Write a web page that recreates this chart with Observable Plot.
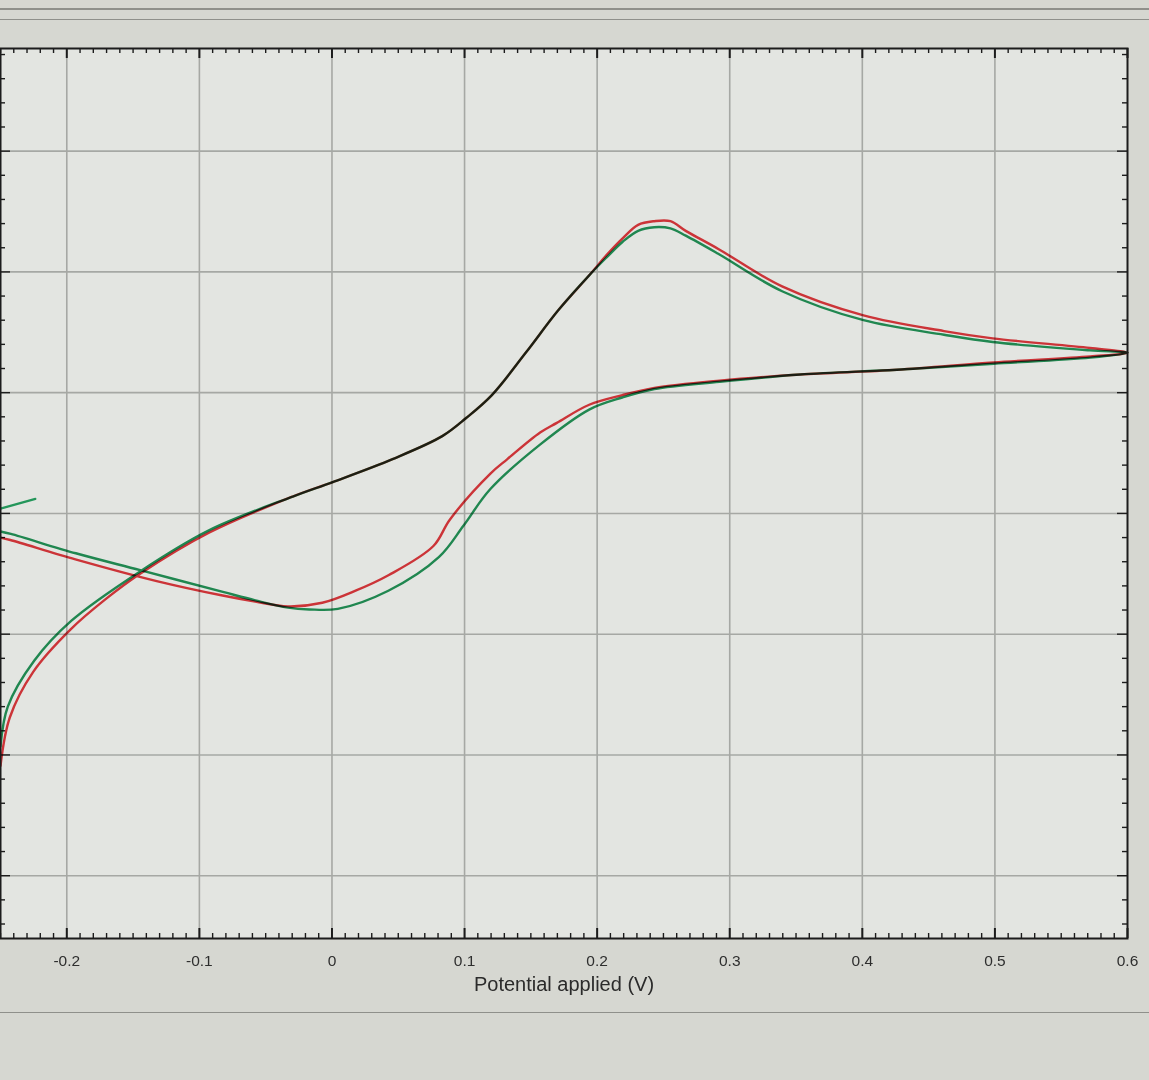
<!DOCTYPE html>
<html><head><meta charset="utf-8">
<script src="https://cdn.jsdelivr.net/npm/d3@7"></script>
<script src="https://cdn.jsdelivr.net/npm/@observablehq/plot@0.6"></script>
<style>
body{margin:0;background:#d6d7d1;font-family:"Liberation Sans",Arial,sans-serif;}
#wrap{position:relative;width:1149px;height:1080px;overflow:hidden;}
.uiline{position:absolute;left:0;width:1149px;height:2px;background:#8f908b;}
#chart{position:absolute;left:0;top:0;}
</style></head><body>
<div id="wrap">
  <div class="uiline" style="top:8px"></div>
  <div class="uiline" style="top:19px;height:1px"></div>
  <div id="chart"></div>
  <div class="uiline" style="top:1012px;height:1px"></div>
</div>
<script>
// ---- data (potential in V, current in grid units) ----
const redPotential = [-0.25,-0.243,-0.2252,-0.1971,-0.1707,-0.1447,-0.0928,-0.0296,0.0006,0.0457,0.0832,0.1012,0.1206,0.1461,0.1705,0.1947,0.2071,0.2194,0.2309,0.2431,0.2553,0.2668,0.2914,0.3395,0.4009,0.4616,0.4983,0.5717,0.6,
  0.572,0.4991,0.4261,0.3531,0.2923,0.2432,0.219,0.194,0.1696,0.157,0.1323,0.1195,0.089,0.0765,0.0429,0.0178,-0.0073,-0.0332,-0.0579,-0.0825,-0.1322,-0.1935,-0.2426,-0.25];
const redCurrent = [0.91,1.31,1.69,2.04,2.29,2.50,2.84,3.14,3.26,3.45,3.64,3.79,3.98,4.33,4.68,4.98,5.14,5.28,5.39,5.42,5.42,5.34,5.19,4.88,4.64,4.51,4.45,4.37,4.33,
  4.30,4.25,4.19,4.15,4.10,4.04,3.98,3.90,3.75,3.67,3.45,3.33,2.95,2.73,2.49,2.36,2.26,2.23,2.27,2.32,2.44,2.62,2.78,2.80];
const greenPotential = [-0.25,-0.2445,-0.2246,-0.1967,-0.1447,-0.0928,-0.0296,0.0006,0.0457,0.0832,0.1012,0.1206,0.1461,0.1705,0.1947,0.2071,0.2193,0.2309,0.2431,0.2553,0.2668,0.2913,0.3395,0.4009,0.4616,0.4983,0.5717,0.6,
  0.572,0.4991,0.4261,0.3531,0.2923,0.2432,0.219,0.194,0.1569,0.1193,0.0993,0.0808,0.0425,0.0044,-0.017,-0.0332,-0.0578,-0.0823,-0.1446,-0.1932,-0.2422,-0.25];
const greenCurrent = [1.07,1.40,1.78,2.11,2.52,2.86,3.14,3.26,3.45,3.64,3.79,3.98,4.33,4.68,4.98,5.12,5.25,5.34,5.37,5.36,5.30,5.15,4.84,4.60,4.48,4.42,4.35,4.33,
  4.29,4.24,4.19,4.15,4.09,4.03,3.96,3.86,3.57,3.20,2.90,2.64,2.36,2.21,2.205,2.22,2.28,2.35,2.53,2.67,2.83,2.85];
const greenStartPotential = [-0.25,-0.2237];
const greenStartCurrent = [3.04,3.12];

const xMajor = [-0.2,-0.1,0,0.1,0.2,0.3,0.4,0.5,0.6];
const xTickLabels = ["-0.2","-0.1","0","0.1","0.2","0.3","0.4","0.5","0.6"];
const xGrid = [-0.2,-0.1,0,0.1,0.2,0.3,0.4,0.5];
const yGrid = [0,1,2,3,4,5,6];
const xLabel = "Potential applied (V)";

// ---- layout ----
const W = 1149, H = 1010, mT = 48, mB = 72, mL = 0, mR = 22;
const xDom = [-0.25, 0.6], yDom = [-0.52, 6.85];
const pxPerX = (W - mL - mR) / (xDom[1] - xDom[0]);
const pxPerY = (H - mT - mB) / (yDom[1] - yDom[0]);

const rows = (v, i) => v.map((d, k) => ({V: d, I: i[k]}));
const red = rows(redPotential, redCurrent);
const green = rows(greenPotential, greenCurrent);
const greenStart = rows(greenStartPotential, greenStartCurrent);

const xMinor = d3.range(-25, 61).map(k => k / 100);
const yMinor = d3.range(-2, 35).map(k => k / 5);
const lenMajY = 10 / pxPerY, lenMinY = 5 / pxPerY;
const lenMajX = 10 / pxPerX, lenMinX = 5 / pxPerX;
const isMajorX = d => Math.abs(Math.round(d * 10) - d * 10) < 1e-6;
const isMajorY = d => Math.abs(Math.round(d) - d) < 1e-6;
const ink = "#1c1c1c";

const chart = Plot.plot({
  width: W, height: H,
  marginTop: mT, marginBottom: mB, marginLeft: mL, marginRight: mR,
  style: {background: "transparent", fontFamily: "'Liberation Sans', Arial, sans-serif"},
  x: {domain: xDom},
  y: {domain: yDom, axis: null},
  marks: [
    Plot.frame({fill: "#e3e5e1", stroke: "none"}),
    Plot.ruleX(xGrid, {stroke: "#a6a8a4", strokeWidth: 1.6}),
    Plot.ruleY(yGrid, {stroke: "#a6a8a4", strokeWidth: 1.6}),
    // bottom & top ticks (inward)
    Plot.ruleX(xMinor, {x: d => d, y1: yDom[0], y2: d => yDom[0] + (isMajorX(d) ? lenMajY : lenMinY), stroke: ink, strokeWidth: d => isMajorX(d) ? 2 : 1.4}),
    Plot.ruleX(xMinor, {x: d => d, y1: yDom[1], y2: d => yDom[1] - (isMajorX(d) ? lenMajY : lenMinY), stroke: ink, strokeWidth: d => isMajorX(d) ? 2 : 1.4}),
    // left & right ticks (inward)
    Plot.ruleY(yMinor, {y: d => d, x1: xDom[0], x2: d => xDom[0] + (isMajorY(d) ? lenMajX : lenMinX), stroke: ink, strokeWidth: 1.4}),
    Plot.ruleY(yMinor, {y: d => d, x1: xDom[1], x2: d => xDom[1] - (isMajorY(d) ? lenMajX : lenMinX), stroke: ink, strokeWidth: 1.4}),
    Plot.line(green, {x: "V", y: "I", stroke: "#24965a", strokeWidth: 2.4, curve: "catmull-rom", mixBlendMode: "multiply"}),
    Plot.line(greenStart, {x: "V", y: "I", stroke: "#24965a", strokeWidth: 2.2}),
    Plot.line(red, {x: "V", y: "I", stroke: "#e53a3f", strokeWidth: 2.4, curve: "catmull-rom", mixBlendMode: "multiply"}),
    Plot.frame({stroke: ink, strokeWidth: 2}),
    Plot.axisX(xMajor, {anchor: "bottom", tickSize: 0, tickPadding: 16, fontSize: 15.5, fill: "#2e2e2e",
      tickFormat: d => xTickLabels[xMajor.indexOf(d)], label: null}),
    Plot.text([xLabel], {frameAnchor: "bottom", dy: 52, fontSize: 20, fill: "#2b2b2b"})
  ]
});
document.getElementById("chart").appendChild(chart);
</script>
</body></html>
